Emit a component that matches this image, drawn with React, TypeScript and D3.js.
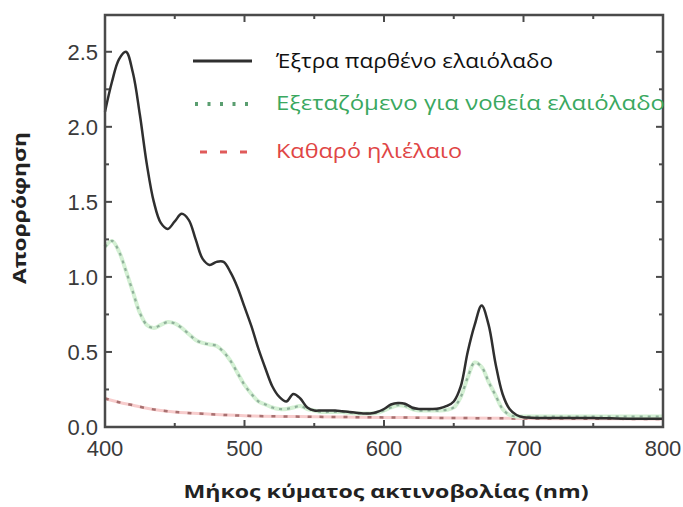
import React from "react";
import * as d3 from "d3";

const wavelengths = [
  400, 405, 410, 415, 420, 425, 430, 435, 440, 445, 450, 455, 460, 465, 470, 475, 480, 485, 490, 495,
  500, 505, 510, 515, 520, 525, 530, 535, 540, 545, 550, 555, 560, 565, 570, 575, 580, 585, 590, 595,
  600, 605, 610, 615, 620, 625, 630, 635, 640, 645, 650, 655, 660, 665, 670, 675, 680, 685, 690, 695,
  700, 725, 750, 775, 800,
];

const extraVirgin = [
  2.1, 2.3, 2.45, 2.5, 2.36, 2.08, 1.75, 1.5, 1.36, 1.32, 1.37, 1.42, 1.38, 1.25, 1.12, 1.08, 1.1, 1.1, 1.03, 0.93,
  0.8, 0.67, 0.52, 0.39, 0.27, 0.2, 0.17, 0.22, 0.19, 0.13, 0.11, 0.11, 0.11, 0.11, 0.105, 0.1, 0.095, 0.09, 0.09, 0.1,
  0.12, 0.15, 0.16, 0.155, 0.13, 0.12, 0.12, 0.12, 0.125, 0.14, 0.17, 0.27, 0.5, 0.68, 0.81, 0.68, 0.42, 0.22, 0.12, 0.08,
  0.065, 0.06, 0.06, 0.055, 0.055,
];

const testedOil = [
  1.2, 1.24, 1.17, 1.04, 0.9, 0.76, 0.68, 0.66, 0.68, 0.7, 0.69, 0.66, 0.62, 0.58, 0.56, 0.55, 0.54, 0.5, 0.44, 0.36,
  0.28, 0.22, 0.17, 0.15, 0.13, 0.12, 0.12, 0.13, 0.14, 0.12, 0.11, 0.1, 0.1, 0.1, 0.1, 0.095, 0.09, 0.09, 0.09, 0.095,
  0.11, 0.13, 0.145, 0.14, 0.12, 0.11, 0.11, 0.11, 0.11, 0.115, 0.13, 0.2, 0.33, 0.43, 0.4, 0.3, 0.21, 0.12, 0.08, 0.07,
  0.07, 0.07, 0.07, 0.07, 0.07,
];

const sunflowerWl = [400, 410, 420, 430, 440, 450, 470, 500, 550, 600, 650, 700, 750, 800];
const sunflower = [0.19, 0.165, 0.145, 0.125, 0.11, 0.1, 0.088, 0.075, 0.068, 0.064, 0.06, 0.057, 0.055, 0.053];

const xTicks = [400, 500, 600, 700, 800];
const yTicks = [0, 0.5, 1.0, 1.5, 2.0, 2.5];
const xMinor = [450, 550, 650, 750];
const yMinor = [0.25, 0.75, 1.25, 1.75, 2.25];

const legendLabels = ["Έξτρα παρθένο ελαιόλαδο", "Εξεταζόμενο για νοθεία ελαιόλαδο", "Καθαρό ηλιέλαιο"];
const xTitle = "Μήκος κύματος ακτινοβολίας (nm)";
const yTitle = "Απορρόφηση";

export default function App() {
  const W = 683, H = 507;
  const L = 105, R = 663, T = 15, B = 427;
  const x = d3.scaleLinear().domain([400, 800]).range([L, R]);
  const y = d3.scaleLinear().domain([0, 2.745]).range([B, T]);
  const line = d3
    .line<[number, number]>()
    .x((d) => x(d[0]))
    .y((d) => y(d[1]))
    .curve(d3.curveCatmullRom.alpha(0.5));
  const pts = (xs: number[], ys: number[]) => xs.map((v, i) => [v, ys[i]] as [number, number]);
  const black = line(pts(wavelengths, extraVirgin)) || "";
  const green = line(pts(wavelengths, testedOil)) || "";
  const red = line(pts(sunflowerWl, sunflower)) || "";
  const axisColor = "#4a4a4a";
  const tickFont = "'Liberation Sans', Arial, sans-serif";
  const textFont = "'Open Sans', 'Noto Sans', sans-serif";

  return (
    <svg width={W} height={H} style={{ position: "absolute", left: 0, top: 0, background: "#fff" }}>
      <rect x={0} y={0} width={W} height={H} fill="#fff" />
      {/* curves */}
      <path d={red} fill="none" stroke="#f7cccc" strokeWidth={3} />
      <path d={red} fill="none" stroke="#a87070" strokeWidth={2.5} strokeDasharray="4 8" />
      <path d={green} fill="none" stroke="#d4f0d4" strokeWidth={4} />
      <path d={green} fill="none" stroke="#8fb09a" strokeWidth={2.2} strokeDasharray="3 5" />
      <path d={black} fill="none" stroke="#2f2f2f" strokeWidth={2.5} />

      {/* frame */}
      <rect x={L} y={T} width={R - L} height={B - T} fill="none" stroke={axisColor} strokeWidth={2.5} />
      {xTicks.map((t) => (
        <g key={"xt" + t}>
          <line x1={x(t)} x2={x(t)} y1={B} y2={B - 7} stroke={axisColor} strokeWidth={2} />
          <line x1={x(t)} x2={x(t)} y1={T} y2={T + 7} stroke={axisColor} strokeWidth={2} />
          <text x={x(t)} y={B + 29} textAnchor="middle" fontFamily={tickFont} fontSize={22} fill="#3a3a3a">
            {t}
          </text>
        </g>
      ))}
      {xMinor.map((t) => (
        <g key={"xm" + t}>
          <line x1={x(t)} x2={x(t)} y1={B} y2={B - 4} stroke={axisColor} strokeWidth={2} />
          <line x1={x(t)} x2={x(t)} y1={T} y2={T + 4} stroke={axisColor} strokeWidth={2} />
        </g>
      ))}
      {yTicks.map((t) => (
        <g key={"yt" + t}>
          <line x1={L} x2={L + 7} y1={y(t)} y2={y(t)} stroke={axisColor} strokeWidth={2} />
          <line x1={R} x2={R - 7} y1={y(t)} y2={y(t)} stroke={axisColor} strokeWidth={2} />
          <text x={L - 7} y={y(t) + 8} textAnchor="end" fontFamily={tickFont} fontSize={22} fill="#3a3a3a">
            {t.toFixed(1)}
          </text>
        </g>
      ))}
      {yMinor.map((t) => (
        <g key={"ym" + t}>
          <line x1={L} x2={L + 4} y1={y(t)} y2={y(t)} stroke={axisColor} strokeWidth={2} />
          <line x1={R} x2={R - 4} y1={y(t)} y2={y(t)} stroke={axisColor} strokeWidth={2} />
        </g>
      ))}

      {/* legend */}
      <line x1={193} x2={252} y1={61} y2={61} stroke="#2f2f2f" strokeWidth={3} />
      <text x={276} y={68} fontFamily={textFont} fontSize={20} fill="#111" textLength={277} lengthAdjust="spacingAndGlyphs">
        {legendLabels[0]}
      </text>
      <line x1={195} x2={252} y1={104} y2={104} stroke="#5a9e70" strokeWidth={4} strokeDasharray="3 9.5" />
      <text x={276} y={110} fontFamily={textFont} fontSize={20} fill="#3aa860" textLength={389} lengthAdjust="spacingAndGlyphs">
        {legendLabels[1]}
      </text>
      <line x1={200} x2={256} y1={152} y2={152} stroke="#e05a5a" strokeWidth={3} strokeDasharray="7 13" />
      <text x={276} y={158} fontFamily={textFont} fontSize={20} fill="#e04545" textLength={186} lengthAdjust="spacingAndGlyphs">
        {legendLabels[2]}
      </text>

      {/* axis titles */}
      <text x={386} y={498} textAnchor="middle" fontFamily={textFont} fontWeight="bold" fontSize={18} fill="#222" textLength={405} lengthAdjust="spacingAndGlyphs">
        {xTitle}
      </text>
      <text transform="translate(26,208) rotate(-90)" textAnchor="middle" fontFamily={textFont} fontWeight="bold" fontSize={17} fill="#222" textLength={152} lengthAdjust="spacingAndGlyphs">
        {yTitle}
      </text>
    </svg>
  );
}
